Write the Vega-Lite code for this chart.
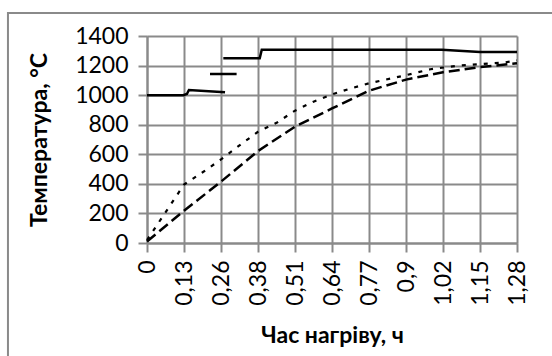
{
  "$schema": "https://vega.github.io/schema/vega-lite/v6.json",
  "width": 370,
  "height": 207,
  "autosize": {"type": "none"},
  "padding": {"left": 147, "top": 36, "right": 35, "bottom": 113},
  "background": "white",
  "config": {
    "view": {"stroke": null},
    "font": "Lato",
    "axis": {
      "grid": true,
      "gridColor": "#8a8a8a",
      "gridWidth": 2,
      "gridOpacity": 1,
      "domainColor": "#8a8a8a",
      "domainWidth": 2,
      "tickColor": "#8a8a8a",
      "tickWidth": 2,
      "tickSize": 9,
      "labelFont": "Lato",
      "labelFontSize": 23,
      "labelColor": "#000000",
      "titleFont": "Lato",
      "titleFontSize": 23,
      "titleFontWeight": "bold",
      "titleColor": "#000000"
    }
  },
  "datasets": {
    "solid": [
      {"seg": "a", "t": 0, "v": 1000},
      {"seg": "a", "t": 0.125, "v": 1000},
      {"seg": "a", "t": 0.138, "v": 1008},
      {"seg": "a", "t": 0.145, "v": 1035},
      {"seg": "a", "t": 0.27, "v": 1020},
      {"seg": "b", "t": 0.218, "v": 1143},
      {"seg": "b", "t": 0.31, "v": 1143},
      {"seg": "c", "t": 0.264, "v": 1250},
      {"seg": "c", "t": 0.39, "v": 1250},
      {"seg": "c", "t": 0.397, "v": 1307},
      {"seg": "c", "t": 1.02, "v": 1307},
      {"seg": "c", "t": 1.152, "v": 1292},
      {"seg": "c", "t": 1.28, "v": 1292}
    ],
    "dash": [
      {"t": 0, "v": 10},
      {"t": 0.128, "v": 218},
      {"t": 0.256, "v": 415},
      {"t": 0.384, "v": 622},
      {"t": 0.512, "v": 787},
      {"t": 0.64, "v": 910},
      {"t": 0.768, "v": 1030},
      {"t": 0.896, "v": 1105},
      {"t": 1.024, "v": 1155},
      {"t": 1.152, "v": 1190},
      {"t": 1.28, "v": 1215}
    ],
    "dot": [
      {"t": 0, "v": 20},
      {"t": 0.128, "v": 395},
      {"t": 0.19, "v": 475},
      {"t": 0.256, "v": 565},
      {"t": 0.32, "v": 660},
      {"t": 0.384, "v": 752},
      {"t": 0.45, "v": 815},
      {"t": 0.512, "v": 895},
      {"t": 0.576, "v": 956},
      {"t": 0.64, "v": 1005},
      {"t": 0.704, "v": 1045},
      {"t": 0.768, "v": 1080},
      {"t": 0.896, "v": 1135},
      {"t": 0.98, "v": 1175},
      {"t": 1.07, "v": 1198},
      {"t": 1.152, "v": 1210},
      {"t": 1.24, "v": 1222},
      {"t": 1.28, "v": 1235}
    ]
  },
  "layer": [
    {
      "data": {"name": "dash"},
      "mark": {"type": "line", "color": "#000000", "strokeWidth": 2.5, "strokeDash": [11, 5]},
      "encoding": {
        "x": {"field": "t", "type": "quantitative", "title": "Час нагріву, ч",
          "scale": {"domain": [0, 1.28], "nice": false, "zero": false},
          "axis": {"values": [0, 0.128, 0.256, 0.384, 0.512, 0.64, 0.768, 0.896, 1.024, 1.152, 1.28],
            "labelExpr": "replace(toString(round(datum.value*100)/100), '.', ',')",
            "labelAngle": -90, "labelPadding": 8, "titlePadding": 19}},
        "y": {"field": "v", "type": "quantitative", "title": "Температура, °C",
          "scale": {"domain": [0, 1400], "nice": false},
          "axis": {"values": [0, 200, 400, 600, 800, 1000, 1200, 1400], "format": "d",
            "labelPadding": 10, "titlePadding": 23}}
      }
    },
    {
      "data": {"name": "dot"},
      "mark": {"type": "line", "color": "#000000", "strokeWidth": 2.2, "strokeDash": [4, 7]},
      "encoding": {
        "x": {"field": "t", "type": "quantitative", "title": "Час нагріву, ч",
          "axis": {"values": [0, 0.128, 0.256, 0.384, 0.512, 0.64, 0.768, 0.896, 1.024, 1.152, 1.28],
            "labelExpr": "replace(toString(round(datum.value*100)/100), '.', ',')",
            "labelAngle": -90, "labelPadding": 8, "titlePadding": 19}},
        "y": {"field": "v", "type": "quantitative", "title": "Температура, °C",
          "axis": {"values": [0, 200, 400, 600, 800, 1000, 1200, 1400], "format": "d",
            "labelPadding": 10, "titlePadding": 23}}
      }
    },
    {
      "data": {"name": "solid"},
      "mark": {"type": "line", "color": "#000000", "strokeWidth": 2.5},
      "encoding": {
        "x": {"field": "t", "type": "quantitative", "title": "Час нагріву, ч",
          "axis": {"values": [0, 0.128, 0.256, 0.384, 0.512, 0.64, 0.768, 0.896, 1.024, 1.152, 1.28],
            "labelExpr": "replace(toString(round(datum.value*100)/100), '.', ',')",
            "labelAngle": -90, "labelPadding": 8, "titlePadding": 19}},
        "y": {"field": "v", "type": "quantitative", "title": "Температура, °C",
          "axis": {"values": [0, 200, 400, 600, 800, 1000, 1200, 1400], "format": "d",
            "labelPadding": 10, "titlePadding": 23}},
        "detail": {"field": "seg"}
      }
    },
    {
      "data": {"values": [{}]},
      "mark": {"type": "rect", "fill": null, "stroke": "#8a8a8a", "strokeWidth": 2, "clip": false},
      "encoding": {
        "x": {"datum": -0.481, "type": "quantitative", "title": "Час нагріву, ч",
          "axis": {"values": [0, 0.128, 0.256, 0.384, 0.512, 0.64, 0.768, 0.896, 1.024, 1.152, 1.28],
            "labelExpr": "replace(toString(round(datum.value*100)/100), '.', ',')",
            "labelAngle": -90, "labelPadding": 8, "titlePadding": 19}},
        "x2": {"datum": 1.7},
        "y": {"datum": 1555, "type": "quantitative", "title": "Температура, °C",
          "axis": {"values": [0, 200, 400, 600, 800, 1000, 1200, 1400], "format": "d",
            "labelPadding": 10, "titlePadding": 23}},
        "y2": {"datum": -1200}
      }
    }
  ]
}
